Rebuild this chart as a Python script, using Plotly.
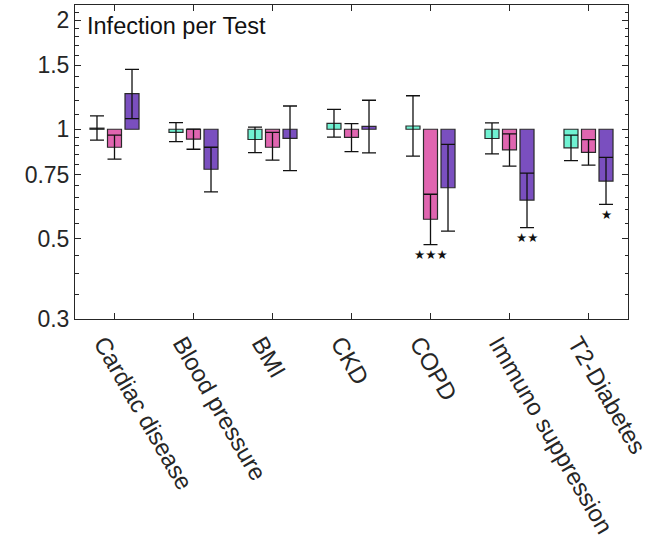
import numpy as np
import plotly.graph_objects as go

categories = ["Cardiac disease", "Blood pressure", "BMI", "CKD", "COPD",
              "Immuno suppression", "T2-Diabetes"]

# ratio (bar end) and confidence interval bounds for each series
turq_val = [1.007, 0.981, 0.937, 1.038, 1.021, 0.943, 0.889]
turq_low = [0.933, 0.924, 0.862, 0.951, 0.843, 0.855, 0.820]
turq_high = [1.088, 1.043, 1.013, 1.135, 1.237, 1.041, 0.963]

pink_val = [0.892, 0.939, 0.892, 0.950, 0.565, 0.877, 0.864]
pink_low = [0.827, 0.881, 0.822, 0.868, 0.481, 0.791, 0.796]
pink_high = [0.963, 1.001, 0.981, 1.036, 0.662, 0.971, 0.936]

purp_val = [1.253, 0.776, 0.944, 1.019, 0.690, 0.638, 0.720]
purp_low = [1.070, 0.672, 0.769, 0.861, 0.524, 0.536, 0.621]
purp_high = [1.463, 0.892, 1.159, 1.202, 0.909, 0.757, 0.837]

# significance markers: (category index, series index, label)
sig_cat = [4, 5, 6]
sig_series = [1, 2, 2]
sig_label = ["★★★", "★★", "★"]

y_tickvals = [0.3, 0.5, 0.75, 1, 1.5, 2]
y_ticktext = ["0.3", "0.5", "0.75", "1", "1.5", "2"]
y_minor = [0.35, 0.4, 0.45, 0.55, 0.6, 0.65, 0.7, 0.8, 0.85, 0.9, 0.95,
           1.1, 1.2, 1.3, 1.4, 1.6, 1.7, 1.8, 1.9, 2.1]

title_text = "Infection per Test"

colors = ["#70F2D2", "#E065B0", "#7A4FBF"]
series = [(turq_val, turq_low, turq_high),
          (pink_val, pink_low, pink_high),
          (purp_val, purp_low, purp_high)]
names = ["Series 1", "Series 2", "Series 3"]

BASE = 1.0
W, H = 659, 552
ML, MR, MT, MB = 75, 31, 5, 233
BARGAP = 0.335
AXC = "#262626"
FONT = "Liberation Sans, Arial, sans-serif"

fig = go.Figure()
for (val, lo, hi), col, nm in zip(series, colors, names):
    val = np.array(val)
    lo = np.array(lo)
    hi = np.array(hi)
    fig.add_trace(go.Bar(
        x=categories, y=val - BASE, base=BASE, name=nm,
        marker=dict(color=col, line=dict(color="#2a2a2a", width=1.2)),
        error_y=dict(type="data", symmetric=False, array=hi - val,
                     arrayminus=val - lo, color="#111111", thickness=1.3,
                     width=7),
        showlegend=False,
    ))

fig.add_shape(type="line", xref="paper", x0=0, x1=1, yref="y", y0=0, y1=0,
              line=dict(color="#3a3a3a", width=1.2))

plot_w = W - ML - MR
slot = plot_w / len(categories) * (1 - BARGAP) / 3
lows = [turq_low, pink_low, purp_low]
for ci, si, lab in zip(sig_cat, sig_series, sig_label):
    fig.add_annotation(x=categories[ci], y=np.log10(lows[si][ci]),
                       xref="x", yref="y", text=lab, showarrow=False,
                       xshift=(si - 1) * slot, yshift=-10,
                       font=dict(family="DejaVu Sans", size=12.5, color="#111111"))

fig.add_annotation(x=0, y=1, xref="paper", yref="paper", text=title_text,
                   showarrow=False, xanchor="left", yanchor="top",
                   xshift=10, yshift=-6,
                   font=dict(family=FONT, size=23.5, color="#111111"))

fig.update_layout(
    width=W, height=H,
    margin=dict(l=ML, r=MR, t=MT, b=MB, autoexpand=False),
    plot_bgcolor="white", paper_bgcolor="white",
    barmode="group", bargap=BARGAP, bargroupgap=0.2,
    font=dict(family=FONT, color=AXC),
)
fig.update_xaxes(
    showline=True, linecolor=AXC, linewidth=1, mirror="allticks",
    ticks="inside", ticklen=6, tickcolor=AXC, tickangle=60,
    ticklabelshift=-11,
    tickfont=dict(size=24, color=AXC), showgrid=False, automargin=False,
)
fig.update_yaxes(
    type="log", range=[np.log10(0.3), np.log10(2.2)],
    tickvals=y_tickvals, ticktext=y_ticktext,
    showline=True, linecolor=AXC, linewidth=1, mirror="allticks",
    ticks="inside", ticklen=6, tickcolor=AXC,
    tickfont=dict(size=23, color=AXC), showgrid=False, zeroline=False,
    automargin=False,
    minor=dict(tickvals=y_minor, ticks="inside", ticklen=3.5, tickcolor=AXC,
               showgrid=False),
)

fig.write_html("out.html",
               config={"displayModeBar": False},
               post_script="document.body.style.margin='0px';"
                           "document.body.style.overflow='hidden';")
